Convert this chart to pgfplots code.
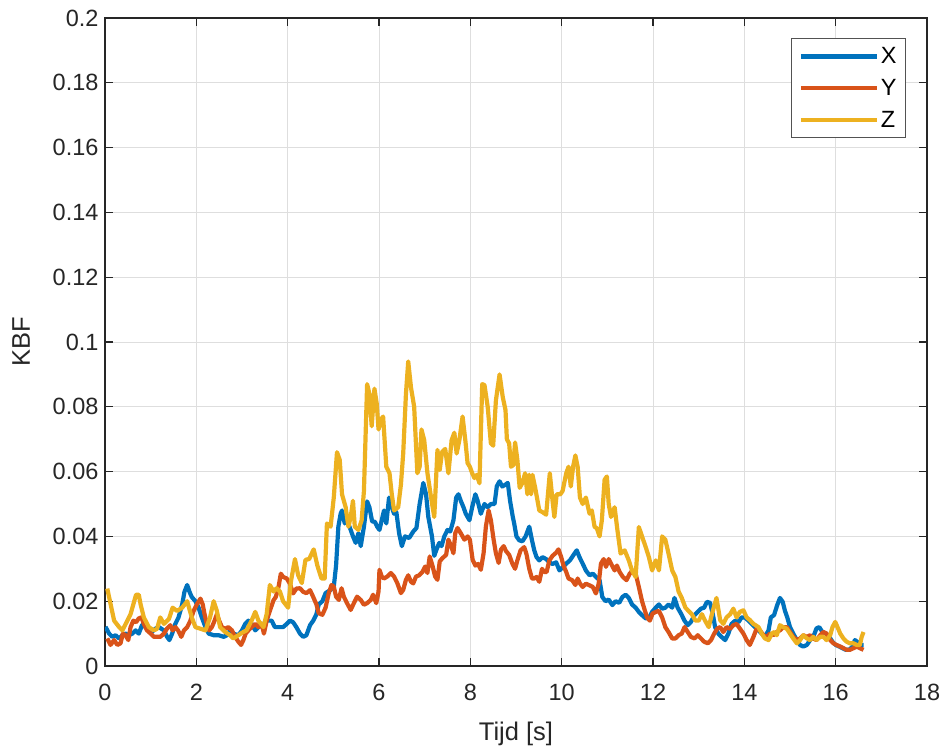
\documentclass[border=0pt]{standalone}
\usepackage{pgfplots}
\pgfplotsset{compat=1.18}
\usepackage{fontspec}
\setmainfont{Liberation Sans}
\definecolor{cX}{rgb}{0,0.447,0.741}
\definecolor{cY}{rgb}{0.85,0.325,0.098}
\definecolor{cZ}{rgb}{0.929,0.694,0.125}
\definecolor{axc}{rgb}{0.15,0.15,0.15}
\begin{document}
\begin{tikzpicture}
\useasboundingbox (-105pt,-87pt) rectangle (839pt,666pt);
\begin{axis}[
  scale only axis, width=822pt, height=648pt,
  xmin=0, xmax=18, ymin=0, ymax=0.2,
  xtick={0,2,...,18},
  ytick={0,0.02,0.04,0.06,0.08,0.1,0.12,0.14,0.16,0.18,0.2},
  scaled y ticks=false,
  yticklabel style={/pgf/number format/fixed,/pgf/number format/precision=2, xshift=-3pt},
  xticklabel style={yshift=-15pt},
  /pgf/number format/assume math mode=true,
  ticklabel style={font=\fontsize{23.5}{26}\selectfont, text=axc},
  label style={font=\fontsize{25.5}{28}\selectfont, text=axc},
  xlabel={Tijd [s]}, ylabel={KBF},
  xlabel style={yshift=-14pt},
  ylabel style={yshift=16pt},
  grid=major,
  major grid style={draw=black!13, line width=0.9pt},
  axis line style={draw=axc, line width=1.3pt},
  tick style={draw=axc, line width=1.3pt},
  major tick length=8pt,
  tick align=inside,
  legend style={at={(0.9745,0.969)}, anchor=north east, draw=axc!80, line width=1pt,
    font=\fontsize{23.5}{26}\selectfont, row sep=10pt, inner sep=7pt},
  legend cell align=left,
  legend image code/.code={\draw[#1, line width=4.2pt] (0pt,0pt) -- (76pt,0pt);},
  every axis plot/.append style={line width=4.2pt, line join=round},
]
\addplot[cX] coordinates {
(0.01,0.0121)(0.09,0.010)(0.16,0.009)(0.23,0.0095)(0.31,0.0085)(0.38,0.0095)(0.45,0.010)(0.52,0.0095)(0.60,0.010)(0.67,0.011)
(0.74,0.010)(0.81,0.0126)(0.89,0.012)(0.96,0.011)(1.03,0.0105)(1.10,0.0115)(1.18,0.012)(1.29,0.011)(1.36,0.009)(1.41,0.008)
(1.47,0.010)(1.54,0.013)(1.61,0.015)(1.69,0.019)(1.74,0.0229)(1.80,0.025)(1.85,0.0229)(1.90,0.0213)(1.98,0.020)(2.05,0.018)
(2.12,0.015)(2.20,0.012)(2.27,0.010)(2.38,0.0095)(2.49,0.0095)(2.60,0.009)(2.67,0.0095)(2.74,0.011)(2.81,0.010)(2.92,0.0095)
(3.00,0.011)(3.07,0.013)(3.14,0.014)(3.21,0.013)(3.29,0.011)(3.36,0.012)(3.47,0.013)(3.54,0.014)(3.65,0.014)(3.72,0.012)
(3.83,0.012)(3.90,0.012)(3.98,0.013)(4.05,0.014)(4.12,0.0135)(4.19,0.012)(4.27,0.010)(4.34,0.009)(4.41,0.0095)(4.49,0.0126)
(4.56,0.014)(4.63,0.016)(4.68,0.019)(4.76,0.020)(4.83,0.0225)(4.94,0.0235)(5.01,0.0245)(5.06,0.031)(5.11,0.043)(5.16,0.047)
(5.19,0.048)(5.25,0.044)(5.30,0.045)(5.38,0.042)(5.43,0.040)(5.49,0.038)(5.55,0.041)(5.60,0.037)(5.67,0.043)(5.74,0.0508)
(5.79,0.049)(5.85,0.0446)(5.91,0.0445)(5.96,0.043)(6.01,0.042)(6.06,0.045)(6.11,0.048)(6.16,0.044)(6.22,0.052)(6.28,0.049)
(6.33,0.047)(6.38,0.0475)(6.44,0.041)(6.50,0.037)(6.57,0.040)(6.66,0.0395)(6.75,0.0415)(6.82,0.0426)(6.89,0.050)(6.97,0.0565)
(7.03,0.053)(7.08,0.046)(7.16,0.040)(7.21,0.034)(7.26,0.036)(7.32,0.038)(7.37,0.037)(7.43,0.040)(7.50,0.042)(7.56,0.0415)
(7.63,0.045)(7.69,0.052)(7.74,0.053)(7.79,0.051)(7.85,0.049)(7.90,0.047)(7.98,0.045)(8.04,0.049)(8.11,0.053)(8.16,0.051)
(8.23,0.047)(8.31,0.050)(8.38,0.049)(8.45,0.050)(8.53,0.050)(8.58,0.0555)(8.64,0.057)(8.70,0.0554)(8.77,0.056)(8.82,0.0565)
(8.87,0.051)(8.93,0.046)(8.96,0.044)(9.01,0.040)(9.07,0.0388)(9.14,0.0385)(9.21,0.040)(9.29,0.043)(9.35,0.0388)(9.40,0.0357)
(9.45,0.0336)(9.51,0.0326)(9.58,0.0336)(9.66,0.033)(9.73,0.032)(9.80,0.0315)(9.88,0.032)(9.95,0.0295)(10.02,0.0305)(10.10,0.0316)
(10.18,0.0326)(10.28,0.0347)(10.33,0.0357)(10.39,0.0336)(10.46,0.0316)(10.53,0.0295)(10.61,0.028)(10.68,0.0285)(10.75,0.0275)(10.83,0.0265)
(10.89,0.0213)(10.96,0.020)(11.03,0.0205)(11.11,0.0188)(11.18,0.020)(11.26,0.0195)(11.33,0.0213)(11.40,0.022)(11.47,0.021)(11.54,0.019)
(11.62,0.018)(11.69,0.0167)(11.76,0.0157)(11.84,0.0147)(11.91,0.0147)(11.98,0.0167)(12.06,0.018)(12.13,0.019)(12.20,0.0177)(12.27,0.018)
(12.34,0.019)(12.42,0.018)(12.47,0.021)(12.54,0.018)(12.62,0.016)(12.69,0.014)(12.76,0.0126)(12.83,0.0136)(12.91,0.0157)(12.98,0.0167)
(13.05,0.0177)(13.12,0.018)(13.18,0.0198)(13.25,0.0195)(13.31,0.016)(13.36,0.012)(13.43,0.010)(13.50,0.009)(13.58,0.008)(13.65,0.010)
(13.72,0.013)(13.80,0.014)(13.87,0.0135)(13.94,0.015)(14.01,0.015)(14.09,0.014)(14.16,0.013)(14.23,0.012)(14.31,0.011)(14.38,0.010)
(14.45,0.009)(14.53,0.011)(14.58,0.015)(14.65,0.0157)(14.72,0.0188)(14.78,0.021)(14.84,0.0198)(14.89,0.017)(14.94,0.015)(15.00,0.012)
(15.07,0.010)(15.15,0.008)(15.22,0.0065)(15.29,0.006)(15.37,0.0065)(15.44,0.008)(15.51,0.009)(15.58,0.0116)(15.64,0.012)(15.71,0.0105)
(15.79,0.010)(15.86,0.009)(15.93,0.0075)(16.00,0.0065)(16.08,0.006)(16.15,0.0055)(16.22,0.005)(16.30,0.005)(16.37,0.006)(16.42,0.008)
(16.47,0.0075)(16.53,0.0065)(16.61,0.0065)
};
\addlegendentry{X}
\addplot[cY] coordinates {
(0.05,0.0085)(0.12,0.0065)(0.20,0.008)(0.27,0.0065)(0.34,0.007)(0.39,0.010)(0.45,0.0095)(0.51,0.008)(0.56,0.012)(0.62,0.014)
(0.68,0.0135)(0.74,0.0147)(0.80,0.015)(0.85,0.013)(0.92,0.011)(1.00,0.010)(1.07,0.009)(1.14,0.009)(1.21,0.009)(1.29,0.010)
(1.36,0.0116)(1.43,0.0126)(1.48,0.011)(1.54,0.012)(1.60,0.011)(1.67,0.009)(1.73,0.011)(1.80,0.012)(1.87,0.014)(1.94,0.017)
(2.01,0.019)(2.09,0.0208)(2.14,0.019)(2.18,0.016)(2.23,0.013)(2.28,0.011)(2.34,0.012)(2.40,0.014)(2.45,0.016)(2.50,0.014)
(2.56,0.012)(2.63,0.0115)(2.70,0.012)(2.78,0.011)(2.85,0.009)(2.92,0.0075)(2.98,0.0065)(3.03,0.008)(3.08,0.010)(3.14,0.011)
(3.21,0.012)(3.29,0.013)(3.36,0.012)(3.43,0.013)(3.48,0.010)(3.54,0.014)(3.61,0.017)(3.69,0.0203)(3.74,0.0213)(3.80,0.0244)
(3.85,0.0285)(3.90,0.0275)(3.98,0.027)(4.05,0.0254)(4.12,0.0224)(4.19,0.0239)(4.27,0.024)(4.34,0.0229)(4.41,0.0225)(4.49,0.0234)
(4.56,0.0213)(4.63,0.019)(4.68,0.0163)(4.76,0.0158)(4.83,0.018)(4.90,0.0225)(4.96,0.025)(5.01,0.0245)(5.06,0.0214)(5.12,0.0204)
(5.18,0.024)(5.23,0.0214)(5.30,0.0194)(5.38,0.0173)(5.45,0.0194)(5.52,0.0214)(5.60,0.0204)(5.67,0.0189)(5.74,0.0194)(5.82,0.0204)
(5.87,0.022)(5.94,0.0194)(5.99,0.023)(6.01,0.0297)(6.06,0.0276)(6.11,0.027)(6.18,0.0276)(6.26,0.0287)(6.33,0.0276)(6.40,0.0256)
(6.48,0.0225)(6.53,0.0235)(6.59,0.0266)(6.64,0.028)(6.70,0.026)(6.75,0.0255)(6.81,0.0276)(6.88,0.028)(6.95,0.029)(7.01,0.0307)
(7.06,0.0287)(7.11,0.0338)(7.17,0.031)(7.23,0.0276)(7.28,0.0266)(7.33,0.0323)(7.39,0.0333)(7.47,0.0343)(7.52,0.039)(7.58,0.037)
(7.63,0.0348)(7.67,0.041)(7.72,0.0426)(7.79,0.041)(7.87,0.039)(7.94,0.040)(7.99,0.039)(8.05,0.0328)(8.11,0.031)(8.17,0.0315)
(8.23,0.0297)(8.29,0.0348)(8.34,0.043)(8.40,0.048)(8.45,0.045)(8.51,0.039)(8.56,0.0348)(8.62,0.0318)(8.67,0.0359)(8.73,0.037)
(8.78,0.0355)(8.85,0.0343)(8.92,0.0316)(8.98,0.030)(9.03,0.0326)(9.10,0.0357)(9.18,0.0367)(9.23,0.0345)(9.29,0.030)(9.35,0.027)
(9.40,0.027)(9.45,0.0275)(9.51,0.026)(9.57,0.030)(9.62,0.029)(9.67,0.029)(9.73,0.0326)(9.80,0.034)(9.88,0.035)(9.93,0.036)
(9.99,0.0336)(10.04,0.031)(10.10,0.029)(10.15,0.027)(10.23,0.0265)(10.30,0.025)(10.35,0.027)(10.40,0.0255)(10.46,0.0244)(10.53,0.0254)
(10.61,0.0249)(10.68,0.0244)(10.75,0.0224)(10.81,0.0254)(10.86,0.0316)(10.92,0.033)(10.97,0.0306)(11.03,0.033)(11.08,0.0316)(11.16,0.0295)
(11.21,0.031)(11.27,0.029)(11.34,0.0275)(11.42,0.0265)(11.49,0.0285)(11.55,0.0295)(11.62,0.0285)(11.69,0.0244)(11.76,0.020)(11.82,0.0172)
(11.87,0.015)(11.93,0.014)(11.99,0.0162)(12.06,0.0167)(12.13,0.017)(12.20,0.015)(12.27,0.012)(12.34,0.0105)(12.42,0.0085)(12.49,0.0085)
(12.56,0.0095)(12.63,0.010)(12.69,0.012)(12.76,0.0105)(12.83,0.009)(12.91,0.0085)(12.98,0.0095)(13.05,0.0085)(13.12,0.0075)(13.20,0.007)
(13.27,0.008)(13.34,0.010)(13.41,0.0116)(13.47,0.012)(13.54,0.0105)(13.61,0.012)(13.69,0.0115)(13.76,0.0126)(13.83,0.013)(13.90,0.0116)
(13.98,0.010)(14.05,0.008)(14.12,0.0065)(14.20,0.009)(14.27,0.0116)(14.34,0.011)(14.42,0.0095)(14.49,0.009)(14.56,0.010)(14.63,0.0095)
(14.71,0.0105)(14.78,0.011)(14.85,0.012)(14.93,0.012)(15.00,0.0105)(15.07,0.009)(15.15,0.008)(15.22,0.0085)(15.29,0.0095)(15.37,0.009)
(15.44,0.0095)(15.51,0.0085)(15.58,0.008)(15.66,0.0095)(15.73,0.0105)(15.80,0.010)(15.88,0.008)(15.95,0.007)(16.02,0.0065)(16.10,0.006)
(16.17,0.0055)(16.24,0.005)(16.31,0.005)(16.39,0.0055)(16.46,0.006)(16.53,0.0055)(16.61,0.005)
};
\addlegendentry{Y}
\addplot[cZ] coordinates {
(0.05,0.0239)(0.20,0.014)(0.31,0.012)(0.38,0.011)(0.49,0.014)(0.56,0.016)(0.68,0.022)(0.74,0.022)(0.78,0.019)(0.85,0.015)
(0.96,0.012)(1.07,0.011)(1.14,0.0115)(1.21,0.015)(1.29,0.013)(1.40,0.0145)(1.48,0.018)(1.58,0.017)(1.69,0.018)(1.80,0.020)
(1.90,0.015)(1.98,0.012)(2.09,0.0115)(2.20,0.011)(2.30,0.015)(2.38,0.020)(2.45,0.017)(2.52,0.012)(2.63,0.0105)(2.74,0.0095)
(2.81,0.0085)(2.92,0.0095)(3.03,0.0105)(3.10,0.011)(3.21,0.014)(3.29,0.0167)(3.36,0.014)(3.47,0.012)(3.54,0.016)(3.61,0.025)
(3.69,0.023)(3.76,0.024)(3.83,0.023)(3.90,0.020)(4.01,0.018)(4.07,0.026)(4.16,0.033)(4.23,0.028)(4.31,0.0256)(4.39,0.0328)
(4.47,0.033)(4.57,0.036)(4.65,0.031)(4.74,0.027)(4.81,0.027)(4.86,0.044)(4.94,0.043)(5.01,0.052)(5.08,0.066)(5.14,0.0636)
(5.19,0.053)(5.27,0.049)(5.33,0.043)(5.38,0.046)(5.43,0.051)(5.47,0.043)(5.55,0.042)(5.62,0.045)(5.67,0.054)(5.74,0.087)
(5.79,0.084)(5.84,0.074)(5.90,0.0856)(5.95,0.081)(5.99,0.073)(6.04,0.076)(6.09,0.077)(6.16,0.0615)(6.23,0.0595)(6.28,0.053)
(6.33,0.048)(6.42,0.049)(6.48,0.056)(6.53,0.0656)(6.59,0.084)(6.64,0.094)(6.70,0.086)(6.77,0.080)(6.84,0.0595)(6.89,0.0615)
(6.93,0.073)(6.99,0.0697)(7.06,0.0596)(7.14,0.052)(7.21,0.046)(7.28,0.0667)(7.33,0.0605)(7.38,0.066)(7.45,0.067)(7.52,0.0595)
(7.59,0.0697)(7.65,0.072)(7.70,0.0656)(7.76,0.0697)(7.83,0.077)(7.89,0.0697)(7.94,0.0626)(7.99,0.0615)(8.04,0.0595)(8.09,0.058)
(8.14,0.059)(8.20,0.0564)(8.26,0.087)(8.31,0.0867)(8.38,0.080)(8.45,0.0687)(8.50,0.068)(8.56,0.082)(8.64,0.090)(8.71,0.083)
(8.77,0.079)(8.80,0.070)(8.85,0.0687)(8.89,0.0615)(8.94,0.062)(8.98,0.069)(9.03,0.0636)(9.08,0.055)(9.14,0.0565)(9.20,0.0595)
(9.25,0.053)(9.29,0.059)(9.33,0.053)(9.36,0.059)(9.42,0.055)(9.51,0.048)(9.58,0.0475)(9.66,0.0467)(9.74,0.0595)(9.80,0.051)
(9.84,0.046)(9.89,0.053)(9.97,0.053)(10.02,0.054)(10.10,0.0595)(10.15,0.0615)(10.20,0.0554)(10.25,0.0615)(10.30,0.065)(10.35,0.0615)
(10.40,0.052)(10.46,0.050)(10.53,0.052)(10.61,0.047)(10.66,0.048)(10.72,0.043)(10.77,0.0425)(10.83,0.040)(10.88,0.045)(10.94,0.0575)
(10.99,0.0585)(11.03,0.050)(11.08,0.046)(11.16,0.049)(11.22,0.042)(11.29,0.0347)(11.38,0.0357)(11.47,0.0326)(11.54,0.0295)(11.62,0.0275)
(11.69,0.0429)(11.76,0.040)(11.84,0.0367)(11.91,0.0336)(11.98,0.0295)(12.06,0.0326)(12.13,0.0295)(12.20,0.040)(12.27,0.039)(12.34,0.0347)
(12.42,0.0295)(12.49,0.0275)(12.56,0.023)(12.63,0.021)(12.71,0.018)(12.78,0.017)(12.85,0.016)(12.93,0.014)(13.00,0.014)(13.07,0.016)
(13.14,0.014)(13.22,0.012)(13.29,0.016)(13.39,0.021)(13.47,0.0142)(13.54,0.013)(13.61,0.015)(13.69,0.016)(13.76,0.0177)(13.83,0.015)
(13.90,0.0167)(13.98,0.0172)(14.05,0.015)(14.12,0.0142)(14.20,0.013)(14.31,0.012)(14.38,0.010)(14.45,0.0085)(14.53,0.008)(14.60,0.010)
(14.66,0.0105)(14.71,0.0095)(14.78,0.0126)(14.85,0.012)(14.93,0.0115)(15.00,0.010)(15.07,0.0085)(15.15,0.007)(15.22,0.008)(15.29,0.0095)
(15.37,0.0085)(15.44,0.008)(15.51,0.009)(15.58,0.008)(15.66,0.009)(15.73,0.009)(15.80,0.008)(15.88,0.0095)(15.93,0.012)(15.99,0.0136)
(16.04,0.012)(16.10,0.010)(16.17,0.0085)(16.24,0.0075)(16.31,0.007)(16.39,0.007)(16.46,0.0065)(16.53,0.0065)(16.57,0.009)(16.61,0.0105)
};
\addlegendentry{Z}
\end{axis}
\end{tikzpicture}
\end{document}
